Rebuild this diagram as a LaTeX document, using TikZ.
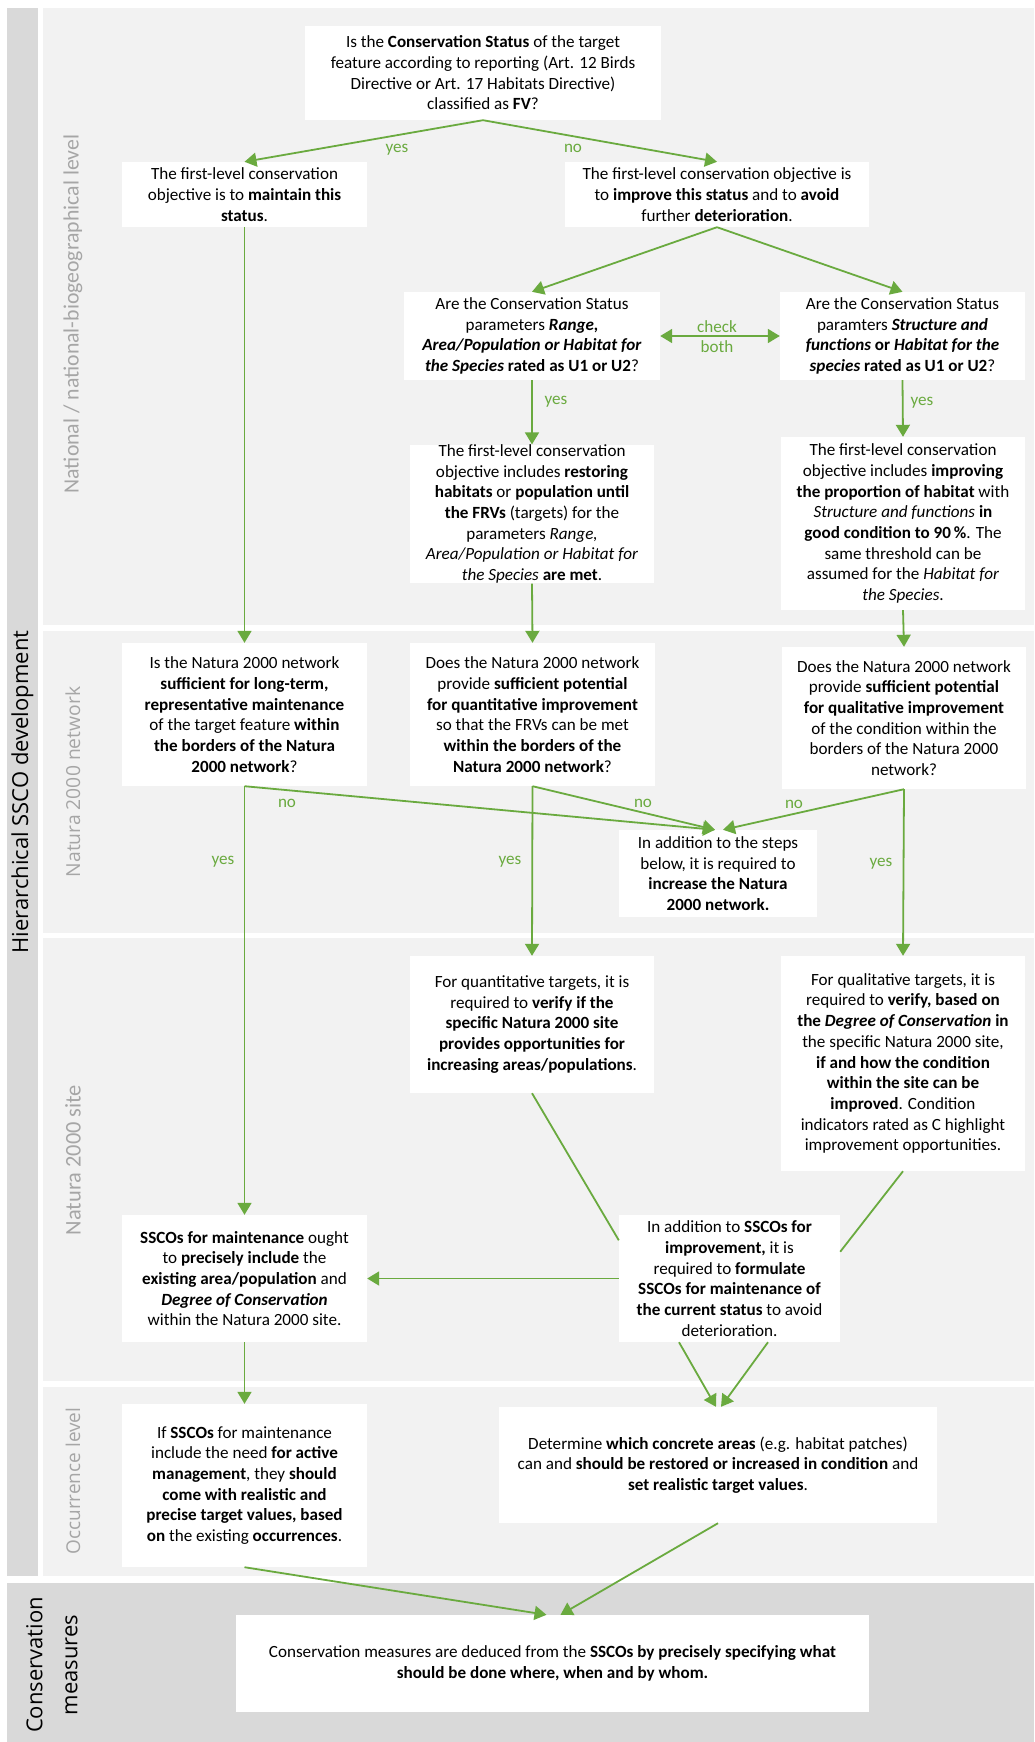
\documentclass[tikz,border=0pt]{standalone}
\usepackage{fontspec}
\setmainfont{Carlito}
\newfontfamily\osans{Open Sans}
\usetikzlibrary{arrows.meta,calc}
\definecolor{grn}{HTML}{6AAA3F}
\definecolor{panelgray}{HTML}{F2F2F2}
\definecolor{stripgray}{HTML}{D9D9D9}
\definecolor{lblgray}{HTML}{A6A6A6}
\begin{document}
\begin{tikzpicture}[x=1pt,y=-1pt,
  box/.style={fill=white, inner sep=0pt, align=center, font=\fontsize{17.1}{20.7}\selectfont},
  arr/.style={draw=grn, line width=1.8pt, -{Triangle[length=12pt,width=14pt]}},
  darr/.style={draw=grn, line width=1.8pt, {Triangle[length=12pt,width=14pt]}-{Triangle[length=12pt,width=14pt]}},
  ln/.style={draw=grn, line width=1.8pt},
  gl/.style={text=grn, inner sep=0pt, font=\fontsize{17.1}{20.7}\selectfont},
  lvl/.style={rotate=90, text=lblgray, inner sep=0pt},
]
\useasboundingbox (0,0) rectangle (1034,1742);
\fill[white] (0,0) rectangle (1034,1742);
\fill[stripgray] (7,8) rectangle (38,1576);
\fill[panelgray] (43,8) rectangle (1034,625);
\fill[panelgray] (43,631) rectangle (1034,933);
\fill[panelgray] (43,938) rectangle (1034,1381);
\fill[panelgray] (43,1387) rectangle (1034,1576);
\fill[stripgray] (7,1583) rectangle (1034,1742);

% level labels
\node[rotate=90, inner sep=0pt, font=\osans\fontsize{22}{26}\selectfont] (hier) at (22.5,792) {Hierarchical SSCO development};
\node[lvl, font=\fontsize{21.8}{26}\selectfont] (lnat) at (73,314) {National / national-biogeographical level};
\node[lvl, font=\osans\fontsize{19.3}{23}\selectfont] (lnet) at (73,782) {Natura 2000 network};
\node[lvl, font=\fontsize{22.4}{26}\selectfont] (lsite) at (73,1160) {Natura 2000 site};
\node[lvl, font=\osans\fontsize{19}{23}\selectfont] (locc) at (73,1481) {Occurrence level};
\node[rotate=90, inner sep=0pt, align=center, font=\osans\fontsize{22}{35}\selectfont] (lcm) at (52,1665) {Conservation\\measures};

% panel 1
\node[box, minimum width=356, minimum height=94] (q1) at (483,73) {Is the \textbf{Conservation Status} of the target\\feature according to reporting (Art. 12 Birds\\Directive or Art. 17 Habitats Directive)\\classified as \textbf{FV}?};
\node[box, minimum width=245, minimum height=65] (maint) at (244.5,194.5) {The first-level conservation\\objective is to \textbf{maintain this}\\\textbf{status}.};
\node[box, minimum width=304, minimum height=65] (impr) at (717,194.5) {The first-level conservation objective is\\to \textbf{improve this status} and to \textbf{avoid}\\further \textbf{deterioration}.};
\node[box, minimum width=256, minimum height=88] (qrange) at (532,336) {Are the Conservation Status\\parameters \textbf{\textit{Range,}}\\\textbf{\textit{Area/Population or Habitat for}}\\\textbf{\textit{the Species}} \textbf{rated as U1 or U2}?};
\node[box, minimum width=245, minimum height=88] (qsf) at (902.5,336) {Are the Conservation Status\\paramters \textbf{\textit{Structure and}}\\\textbf{\textit{functions}} \textbf{or} \textbf{\textit{Habitat for the}}\\\textbf{\textit{species}} \textbf{rated as U1 or U2}?};
\node[box, minimum width=244, minimum height=130] (restore) at (532,514) {The first-level conservation\\objective includes \textbf{restoring}\\\textbf{habitats} or \textbf{population until}\\\textbf{the FRVs} (targets) for the\\parameters \textit{Range,}\\\textit{Area/Population or Habitat for}\\\textit{the Species} \textbf{are met}.};
\node[box, minimum width=244, minimum height=173] (improving) at (903,523.5) {The first-level conservation\\objective includes \textbf{improving}\\\textbf{the proportion of habitat} with\\\textit{Structure and functions} \textbf{in}\\\textbf{good condition to 90\,\%}. The\\same threshold can be\\assumed for the \textit{Habitat for}\\\textit{the Species}.};

% panel 2
\node[box, minimum width=245, minimum height=143] (n1) at (244.5,714.5) {Is the Natura 2000 network\\\textbf{sufficient for long-term,}\\\textbf{representative maintenance}\\of the target feature \textbf{within}\\\textbf{the borders of the Natura}\\\textbf{2000 network}?};
\node[box, minimum width=245, minimum height=143] (n2) at (532.5,714.5) {Does the Natura 2000 network\\provide \textbf{sufficient potential}\\\textbf{for quantitative improvement}\\so that the FRVs can be met\\\textbf{within the borders of the}\\\textbf{Natura 2000 network}?};
\node[box, minimum width=244, minimum height=142] (n3) at (904,718) {Does the Natura 2000 network\\provide \textbf{sufficient potential}\\\textbf{for qualitative improvement}\\of the condition within the\\borders of the Natura 2000\\network?};
\node[box, minimum width=198, minimum height=87] (inc) at (718,873.5) {In addition to the steps\\below, it is required to\\\textbf{increase the Natura}\\\textbf{2000 network.}};

% panel 3
\node[box, minimum width=244, minimum height=137] (quant) at (532,1024.5) {For quantitative targets, it is\\required to \textbf{verify if the}\\\textbf{specific Natura 2000 site}\\\textbf{provides opportunities for}\\\textbf{increasing areas/populations}.};
\node[box, minimum width=244, minimum height=215] (qual) at (903,1063.5) {For qualitative targets, it is\\required to \textbf{verify, based on}\\\textbf{the \textit{Degree of Conservation} in}\\the specific Natura 2000 site,\\\textbf{if and how the condition}\\\textbf{within the site can be}\\\textbf{improved}. Condition\\indicators rated as C highlight\\improvement opportunities.};
\node[box, minimum width=245, minimum height=127] (mss) at (244.5,1278.5) {\textbf{SSCOs for maintenance} ought\\to \textbf{precisely include} the\\\textbf{existing area/population} and\\\textbf{\textit{Degree of Conservation}}\\within the Natura 2000 site.};
\node[box, minimum width=221, minimum height=127] (add) at (729.5,1278.5) {In addition to \textbf{SSCOs for}\\\textbf{improvement,} it is\\required to \textbf{formulate}\\\textbf{SSCOs for maintenance of}\\\textbf{the current status} to avoid\\deterioration.};

% panel 4
\node[box, minimum width=245, minimum height=163] (act) at (244.5,1485.5) {If \textbf{SSCOs} for maintenance\\include the need \textbf{for active}\\\textbf{management}, they \textbf{should}\\\textbf{come with realistic and}\\\textbf{precise target values, based}\\\textbf{on} the existing \textbf{occurrences}.};
\node[box, minimum width=438, minimum height=116] (det) at (718,1465) {Determine \textbf{which concrete areas} (e.g. habitat patches)\\can and \textbf{should be restored or increased in condition} and\\\textbf{set realistic target values}.};

% bottom
\node[box, minimum width=633, minimum height=97] (cm) at (552.5,1663.5) {Conservation measures are deduced from the \textbf{SSCOs by precisely specifying what}\\\textbf{should be done where, when and by whom.}};

% connectors panel 1
\draw[arr] (q1.south) -- (maint.north);
\draw[arr] (q1.south) -- (impr.north);
\node[gl] (lyes1) at (397,150) {yes};
\node[gl] (lno1) at (573,148) {no};
\draw[arr] (impr.south) -- (qrange.north);
\draw[arr] (impr.south) -- (qsf.north);
\draw[darr] (qrange.east) -- (qsf.west);
\node[gl, align=center] (lcheck) at (717,336.5) {check\\both};
\draw[arr] (qrange.south) -- (restore.north);
\node[gl] (lyes2) at (556,402) {yes};
\draw[arr] (qsf.south) -- (improving.north);
\node[gl] (lyes3) at (922,403) {yes};
\draw[arr] (maint.south) -- (n1.north);
\draw[arr] (restore.south) -- (n2.north);
\draw[arr] (improving.south) -- (n3.north);

% panel 2
\draw[arr] (n1.south) -- ($(inc.north)+(-3,0)$);
\draw[arr] (n2.south) -- ($(inc.north)+(-3,0)$);
\draw[arr] (n3.south) -- ($(inc.north)+(5,0)$);
\node[gl] (lno2) at (287,803) {no};
\node[gl] (lno3) at (643,803) {no};
\node[gl] (lno4) at (794,804) {no};
\draw[arr] (n1.south) -- (mss.north);
\draw[arr] (n2.south) -- (quant.north);
\draw[arr] (n3.south) -- (qual.north);
\node[gl] (lyes4) at (223,862) {yes};
\node[gl] (lyes5) at (510,862) {yes};
\node[gl] (lyes6) at (881,864) {yes};

% panel 3
\draw[ln] (quant.south) -- ($(add.north west)!0.2!(add.south west)$);
\draw[ln] (qual.south) -- ($(add.north east)!0.29!(add.south east)$);
\draw[arr] (add.west) -- (mss.east);
\draw[arr] ($(add.south)+(-50.5,0)$) -- ($(det.north)+(-2,0)$);
\draw[arr] ($(add.south)+(38.5,0)$) -- ($(det.north)+(3,0)$);
\draw[arr] (mss.south) -- (act.north);

% panel 4
\draw[arr] (act.south) -- ($(cm.north)+(-6,0)$);
\draw[arr] (det.south) -- ($(cm.north)+(8,0)$);
\end{tikzpicture}
\end{document}
